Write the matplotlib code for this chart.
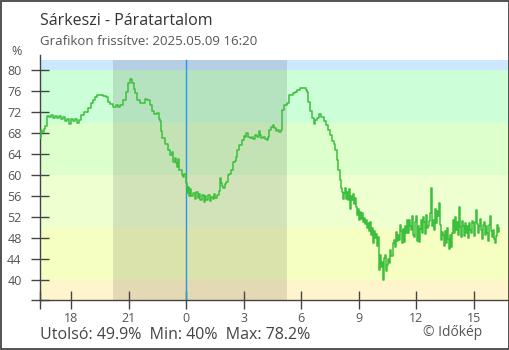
import matplotlib
matplotlib.use('Agg')
import matplotlib.pyplot as plt
import matplotlib.dates as mdates
from matplotlib.patches import Rectangle
from matplotlib.ticker import FuncFormatter
import pandas as pd

plt.rcParams['font.family'] = ['Open Sans', 'DejaVu Sans']

# humidity readings: (minutes from midnight 2025.05.09, %)
early = [
    (-460, 67.0), (-456, 68.5), (-452, 68.2), (-445, 68.8), (-441, 69.3), (-436, 71.2), (-430, 71.0),
    (-423, 71.4), (-417, 70.9), (-411, 71.3), (-405, 70.8), (-398, 71.2), (-392, 70.7), (-386, 71.0),
    (-380, 70.2), (-373, 70.6), (-367, 69.8), (-361, 70.7), (-355, 70.2), (-348, 70.6), (-342, 70.0),
    (-336, 70.4), (-330, 71.5), (-320, 72.0), (-308, 72.8), (-298, 73.7), (-292, 74.3), (-286, 74.8),
    (-280, 75.2), (-270, 75.3), (-261, 75.1), (-251, 74.8), (-245, 74.0), (-239, 73.6), (-229, 73.0),
    (-220, 73.3), (-214, 73.0), (-208, 73.4), (-198, 74.3), (-189, 75.9), (-182, 77.5), (-176, 78.2),
    (-170, 77.5), (-164, 76.3), (-161, 75.6), (-154, 74.3), (-145, 73.7), (-139, 73.8), (-129, 74.4),
    (-123, 74.2), (-114, 73.3), (-107, 72.1), (-101, 71.7), (-92, 71.9), (-85, 70.6), (-82, 70.3),
    (-79, 68.3), (-76, 67.0), (-67, 66.0), (-57, 64.8), (-51, 63.8), (-46, 64.3), (-42, 62.5),
    (-37, 63.2), (-32, 62.2), (-29, 61.5), (-26, 63.0), (-23, 61.0), (-17, 61.0), (-13, 60.0),
    (-10, 59.7), (-6, 60.2), (-1, 58.4), (2, 56.5), (5, 57.8), (8, 56.0), (12, 57.3), (16, 56.0),
    (21, 56.6), (26, 55.5), (30, 56.8), (35, 55.6), (40, 56.4), (44, 55.2), (49, 56.1), (54, 54.9),
    (59, 56.0), (63, 55.3), (68, 56.2), (73, 55.0), (77, 55.8), (82, 55.4), (87, 56.3), (91, 55.6),
    (96, 56.2), (101, 56.9), (104, 59.5), (107, 58.4), (112, 58.0), (115, 57.5), (120, 58.3),
    (124, 58.7), (131, 60.0), (135, 60.2), (140, 61.0), (146, 62.5), (151, 62.7), (156, 63.5),
    (159, 64.8), (165, 65.7), (174, 66.7), (181, 67.5), (184, 67.3), (188, 68.0), (193, 67.3),
    (199, 67.0), (206, 67.3), (210, 66.9), (215, 67.6), (221, 67.3), (226, 68.3), (231, 67.7),
    (235, 67.0), (240, 67.2), (246, 66.9), (253, 66.7), (256, 67.2), (260, 68.6), (265, 69.2),
    (271, 69.5), (276, 69.0), (281, 68.3), (285, 68.5), (290, 68.1), (295, 68.6), (300, 72.4),
    (306, 73.3), (315, 73.7), (321, 75.2), (328, 75.3), (334, 75.6), (340, 75.9), (346, 76.2),
    (356, 76.5), (362, 76.6), (368, 76.5), (375, 76.1), (379, 75.8), (382, 74.0), (387, 72.1),
    (393, 70.8), (400, 69.8), (404, 70.5), (409, 70.8), (415, 71.7), (420, 71.0), (425, 71.1),
    (431, 70.2), (437, 69.5), (444, 68.6), (450, 67.6), (456, 66.4), (461, 66.0), (465, 64.8),
    (472, 62.9), (475, 61.0), (480, 59.0), (483, 57.5), (487, 56.8), (490, 55.5), (494, 56.5),
]

# from 08:17 on, readings every ~3 minutes
late_start = '2025-05-09 08:17'
late_end = '2025-05-09 16:20'
late_hum = [
    57.5, 55.5, 56.8, 55.2, 57.4, 53.6, 56.0, 55.3, 56.4, 54.5,
    55.6, 53.9, 52.4, 53.5, 51.5, 52.9, 51.7, 52.8, 51.0, 51.8,
    50.6, 51.4, 50.0, 50.8, 49.4, 51.0, 48.5, 49.9, 47.0, 49.4,
    48.0, 48.8, 46.5, 48.2, 41.9, 44.8, 42.5, 43.5, 40.0, 44.2,
    44.7, 41.8, 42.8, 44.0, 43.2, 45.7, 44.6, 47.0, 47.6, 46.2,
    49.2, 47.4, 48.6, 47.6, 50.5, 49.3, 47.0, 49.8, 47.3, 50.2,
    48.9, 51.5, 49.0, 51.4, 50.2, 49.6, 52.2, 48.6, 48.2, 51.0,
    52.1, 47.5, 50.3, 47.3, 49.8,
    51.4, 49.0, 52.0, 51.1, 48.8, 52.3, 50.0, 50.2, 51.3, 52.7,
    57.5, 50.3, 51.4, 49.6, 53.6, 50.8, 53.2, 52.1, 54.6, 50.5,
    47.6, 49.2, 48.6, 46.5, 49.4, 47.0, 50.0, 47.9, 46.0, 48.5,
    46.3, 49.0, 51.4, 49.0, 52.0, 49.5, 51.0, 48.6, 54.0, 50.1,
    48.2, 51.2, 50.2, 48.3, 50.9, 48.9, 50.2, 48.0, 50.8, 49.6,
    48.9, 51.3, 50.8, 48.4, 51.0, 53.3, 50.6, 49.0, 50.2, 51.6,
    49.5, 47.8, 50.4, 51.1, 48.6, 50.2, 48.9, 47.5, 50.5, 52.1,
    49.3, 48.2, 49.6, 47.8, 47.0, 48.3, 50.5, 49.2, 49.9,
]

# comfort bands (lower, upper, colour)
bands = [(30, 40, '#fff5cc'), (40, 50, '#f6ffc2'), (50, 60, '#eeffd0'),
         (60, 70, '#ddffcc'), (70, 80, '#ccffd8'), (80, 81.9, '#cce8ff')]

midnight = pd.Timestamp('2025-05-09')
early_min, early_hum = zip(*early)
t_early = midnight + pd.to_timedelta(list(early_min), unit='min')
t_late = pd.date_range(late_start, late_end, periods=len(late_hum))
times = t_early.append(t_late)
hum = list(early_hum) + late_hum

x_start = pd.Timestamp('2025-05-08 16:22')
x_end = pd.Timestamp('2025-05-09 16:50')
sunset = pd.Timestamp('2025-05-08 20:11')
sunrise = pd.Timestamp('2025-05-09 05:15')
y_lo, y_hi = 36.19, 82.86
band_top = (81.9 - y_lo) / (y_hi - y_lo)

fig = plt.figure(figsize=(5.1, 3.5), dpi=100)
ax = fig.add_axes([40 / 510, 50 / 350, 469 / 510, 245 / 350])

for lo, hi, c in bands:
    ax.axhspan(lo, hi, color=c, lw=0, zorder=0)
ax.axvspan(sunset, sunrise, ymax=band_top, color='black', alpha=0.11, lw=0, zorder=1)
ax.axvline(midnight, ymax=band_top, color='#2a96e8', lw=1.0, zorder=2)
ax.plot(times, hum, color='#3dbf3d', lw=1.1, drawstyle='steps-post', zorder=3)

ax.set_xlim(x_start, x_end)
ax.set_ylim(y_lo, y_hi)

ax.set_yticks(range(40, 81, 4))
ax.set_yticks([y_lo], minor=True)
ax.xaxis.set_major_locator(mdates.HourLocator(byhour=range(0, 24, 3)))
ax.xaxis.set_major_formatter(FuncFormatter(lambda v, _: str(mdates.num2date(v).hour)))
ax.set_xticks([mdates.date2num(x_start)], minor=True)

for side in ['top', 'right']:
    ax.spines[side].set_visible(False)
for side in ['left', 'bottom']:
    ax.spines[side].set_color('#444444')
    ax.spines[side].set_linewidth(1.0)

ax.tick_params(axis='both', which='both', direction='inout', length=12.5, width=1.0,
               color='#444444', labelcolor='#555555', labelsize=9)
ax.tick_params(axis='y', which='major', pad=7)
ax.tick_params(axis='x', which='major', pad=2.5)
ax.set_facecolor('white')

fig.text(40 / 510, 1 - 25 / 350, 'Sárkeszi - Páratartalom', fontsize=11.5, color='#333333', va='baseline')
fig.text(40 / 510, 1 - 45 / 350, 'Grafikon frissítve: 2025.05.09 16:20', fontsize=9.5, color='#555555', va='baseline')
fig.text(17 / 510, 1 - 55 / 350, '%', fontsize=9, color='#555555', ha='center', va='baseline')
fig.text(40 / 510, 1 - 339 / 350, 'Utolsó: 49.9%  Min: 40%  Max: 78.2%', fontsize=11.5, color='#444444', va='baseline')
fig.text(482 / 510, 1 - 336 / 350, '© Időkép', fontsize=10, color='#555555', ha='right', va='baseline')

fig.patches.append(Rectangle((0.001, 0.0015), 0.997, 0.996, transform=fig.transFigure,
                             fill=False, edgecolor='#444444', lw=1.3))

fig.savefig('out.png', dpi=100)
